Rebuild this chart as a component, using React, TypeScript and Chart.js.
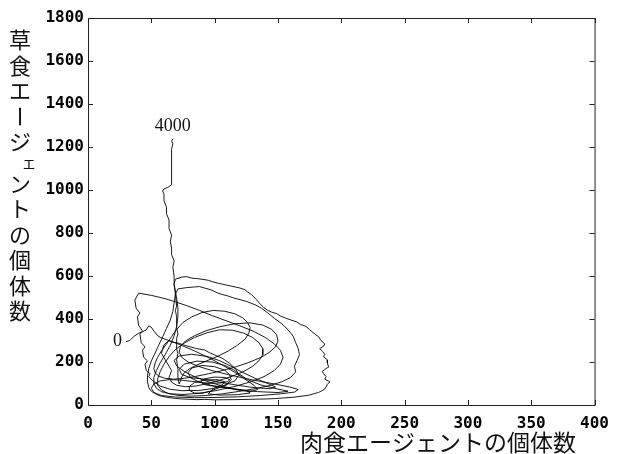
import React, { useEffect, useRef } from "react";
import { Chart, registerables } from "chart.js";

Chart.register(...registerables);

// [carnivores, herbivores] population pairs, time step 0 -> 4000
const trajectory: [number, number][] = [
  [30,295],[33,300],[36,318],[40,334],[43,340],[46,350],[48,368],[50,362],[52,344],[55,322],[58,312],[62,304],[67,292],[72,287],[76,278],[86,262],[92,256],[96,243],[105,220],[108,210],[112,193],[117,165],[119,138],[116,112],[112,104],[109,92],[99,77],[87,67],[80,68],[75,66],[65,73],[57,88],[52,108],[48,132],[49,146],[46,160],[45,190],[47,205],[44,222],[43,255],[45,270],[42,290],[41,330],[43,345],[40,370],[39,410],[41,428],[38,450],[37,488],[40,520],
  [50,510],[60,496],[69,480],[78,462],[88,440],[98,416],[109,392],[120,368],[131,342],[140,314],[147,285],[152,254],[154,222],[152,190],[147,160],[139,132],[128,107],[115,85],[101,67],[87,54],[75,49],[65,52],[58,62],[54,78],[52,100],[52,128],[54,160],[57,196],[61,235],[65,278],[68,322],[70,366],[71,410],[71,452],[70,496],[69,530],[68,562],[69,585],
  [74,595],[78,597],[82,590],[86,588],[90,585],[95,580],[98,574],[103,566],[106,562],[113,553],[117,548],[120,544],[124,536],[126,526],[129,514],[131,502],[133,490],[135,476],[139,452],[142,440],[145,432],[149,425],[152,414],[157,402],[160,396],[165,386],[168,374],[172,366],[175,350],[180,326],[182,318],[184,300],[187,284],[186,274],[183,262],[185,250],[187,236],[186,224],[189,210],[189,196],[190,176],[188,170],[185,156],[186,146],[188,132],[187,120],[191,108],[189,96],[188,84],[187,74],[182,58],[178,52],[174,45],[162,36],[148,30],[140,28],[132,27],[116,25],[100,24],[92,26],[86,25],[74,28],[64,34],[56,44],[51,60],[49,70],[48,82],[47,108],
  [47,138],[48,170],[50,205],[53,242],[56,280],[59,318],[62,356],[65,395],[67,435],[68,475],[69,515],[71,540],[78,546],[84,549],[88,551],[92,544],[97,536],[102,522],[106,514],[110,508],[115,498],[125,482],[132,466],[137,450],[142,428],[147,404],[153,378],[158,350],[162,320],[164,290],[166,262],[167,234],[165,206],[163,180],[164,154],[160,128],[153,108],[144,91],[132,76],[119,63],[106,52],[93,44],[81,41],[71,45],[63,54],[58,70],[55,92],
  [55,122],[57,155],[60,190],[64,225],[69,258],[76,288],[84,314],[94,336],[104,350],[114,348],[123,334],[130,314],[135,290],[138,262],[138,234],[135,206],[130,180],[123,156],[114,134],[104,115],[94,99],[85,88],[77,85],[70,92],[66,106],
  [64,128],[66,160],[62,200],[58,240],[60,280],[64,300],[72,282],[84,252],[96,218],[106,186],[116,152],[124,120],[131,92],[134,72],[128,62],[118,70],[106,88],[94,110],[84,132],[76,156],[70,182],[68,208],[72,228],[82,236],[94,226],[104,206],[113,180],[122,152],[132,124],[142,100],[148,84],[144,76],[132,80],[118,92],[104,106],[92,120],[81,127],[74,142],[72,166],[76,190],[86,204],[98,200],[108,184],[115,164],[120,142],[126,118],[136,94],[150,74],[158,64],[150,58],[134,62],[120,70],[108,80],[97,92],[88,106],[81,127],[79,150],[82,172],[90,184],[100,178],[108,162],[112,140],[113,118],[110,98],[104,82],[97,65],[90,54],[84,56],[80,68],[80,86],[84,104],[92,116],[102,118],[108,108],[106,94],[101,84],[97,65],[95,52],[104,46],[118,48],[128,56],[125,68],[112,78],[100,86],[92,95],[89,108],[92,122],[100,130],[108,128],[112,118],[110,108],[104,102],[97,101],
  [90,104],[82,110],[73,116],[64,118],[57,112],[52,98],[50,78],[52,58],[58,44],[69,37],[84,34],[101,35],[118,38],[136,44],[152,52],[163,60],[166,72],[159,84],[148,97],[136,110],[124,124],[111,141],[98,160],[87,180],[79,200],[74,222],[72,246],[73,272],[77,298],[84,322],[93,345],[104,364],[116,378],[128,382],[138,372],[145,352],[149,326],[150,298],[148,270],[143,244],[136,220],[127,198],[117,178],[106,160],[95,145],[85,133],[76,124],[68,120],[61,124],[56,134],[53,150],[52,170],
  [53,195],[55,222],[58,252],[62,284],[66,318],[70,352],[75,384],[82,410],[90,430],[99,440],[108,436],[116,424],[122,406],[126,384],[128,360],[127,334],[124,306],[118,278],[111,252],[103,228],[94,206],[86,186],[80,168],[76,150],[74,130],[73,112],[72,98],
  [71,125],[71,165],[70,210],[71,240],[70,260],[70,310],[71,330],[70,360],[70,410],[69,440],[70,460],[69,515],[68,560],[68,600],[67,640],[68,670],[66,700],[66,730],[65,760],[66,790],[64,820],[64,860],[62,890],[62,920],[60,950],[60,980],[59,995],[60,1005],[63,1012],[66,1025],[66,1050],[66,1100],[66,1150],[66,1190],[67,1215],[66,1228],[67,1238],
];

const xTickValues = [0, 50, 100, 150, 200, 250, 300, 350, 400];
const yTickValues = [0, 200, 400, 600, 800, 1000, 1200, 1400, 1600, 1800];
const xTitle = "肉食エージェントの個体数";
const yTitle = "草食エージェントの個体数";
const startLabel = "0";
const endLabel = "4000";

const tickFont = { family: "'DejaVu Sans Mono', monospace", size: 16, weight: "bold" as const };

const framePlugin = {
  id: "frameTicks",
  afterDraw(chart: any) {
    const { ctx, chartArea: a, scales } = chart;
    const xs = scales.x, ys = scales.y;
    ctx.save();
    ctx.strokeStyle = "#222";
    ctx.lineWidth = 1;
    ctx.strokeRect(a.left + 0.5, a.top + 0.5, a.right - a.left, a.bottom - a.top);
    ctx.beginPath();
    const len = 5;
    xTickValues.forEach((v) => {
      const px = Math.round(xs.getPixelForValue(v)) + 0.5;
      ctx.moveTo(px, a.bottom); ctx.lineTo(px, a.bottom - len);
      ctx.moveTo(px, a.top); ctx.lineTo(px, a.top + len);
    });
    yTickValues.forEach((v) => {
      const py = Math.round(ys.getPixelForValue(v)) + 0.5;
      ctx.moveTo(a.left, py); ctx.lineTo(a.left + len, py);
      ctx.moveTo(a.right, py); ctx.lineTo(a.right - len, py);
    });
    ctx.stroke();

    // titles
    ctx.fillStyle = "#111";
    ctx.font = "23px 'Noto Sans CJK JP'";
    ctx.textAlign = "center";
    ctx.textBaseline = "middle";
    ctx.fillText(xTitle, 438, 442);

    // vertical y title
    let y = 40;
    const cx = 20;
    for (const ch of Array.from(yTitle)) {
      const small = ch === "ェ";
      if (small) {
        ctx.font = "15px 'Noto Sans CJK JP'";
        ctx.fillText(ch, cx + 9, y - 5);
        y += 16;
        continue;
      }
      ctx.font = "22px 'Noto Sans CJK JP'";
      if (ch === "ー") {
        ctx.save();
        ctx.translate(cx, y);
        ctx.rotate(Math.PI / 2);
        ctx.fillText(ch, 0, 0);
        ctx.restore();
      } else {
        ctx.fillText(ch, cx, y);
      }
      y += 25.5;
    }

    // time annotations
    ctx.font = "18px 'Liberation Serif'";
    const first = trajectory[0];
    const last = trajectory[trajectory.length - 1];
    ctx.textAlign = "right";
    ctx.textBaseline = "middle";
    ctx.fillText(startLabel, xs.getPixelForValue(first[0]) - 4, ys.getPixelForValue(first[1]));
    ctx.textAlign = "center";
    ctx.textBaseline = "bottom";
    ctx.fillText(endLabel, xs.getPixelForValue(last[0]), ys.getPixelForValue(last[1]) - 4);
    ctx.restore();
  },
};

export default function App() {
  const ref = useRef<HTMLCanvasElement | null>(null);
  useEffect(() => {
    if (!ref.current) return;
    const chart = new Chart(ref.current, {
      type: "scatter",
      data: {
        datasets: [
          {
            data: trajectory.map(([x, y]) => ({ x, y })),
            showLine: true,
            borderColor: "#000",
            borderWidth: 0.9,
            pointRadius: 0,
            tension: 0,
          },
        ],
      },
      options: {
        animation: false,
        responsive: false,
        layout: { padding: { top: 18, right: 21, left: 0, bottom: 0 } },
        plugins: { legend: { display: false }, tooltip: { enabled: false } },
        scales: {
          x: {
            type: "linear",
            min: 0,
            max: 400,
            afterBuildTicks: (s: any) => { s.ticks = xTickValues.map((v) => ({ value: v })); },
            afterFit: (s: any) => { s.height = 49; },
            grid: { display: false, drawTicks: false },
            border: { display: false },
            ticks: { font: tickFont, color: "#000", padding: 9, maxRotation: 0, autoSkip: false, callback: (v: any) => String(v) },
          },
          y: {
            type: "linear",
            min: 0,
            max: 1800,
            afterBuildTicks: (s: any) => { s.ticks = yTickValues.map((v) => ({ value: v })); },
            afterFit: (s: any) => { s.width = 88; },
            grid: { display: false, drawTicks: false },
            border: { display: false },
            ticks: { font: tickFont, color: "#000", padding: 4, autoSkip: false, callback: (v: any) => String(v) },
          },
        },
      },
      plugins: [framePlugin],
    });
    return () => chart.destroy();
  }, []);
  return (
    <div style={{ position: "fixed", left: 0, top: 0, width: 618, height: 454, background: "#fff" }}>
      <canvas ref={ref} width={618} height={454} style={{ display: "block" }} />
    </div>
  );
}
